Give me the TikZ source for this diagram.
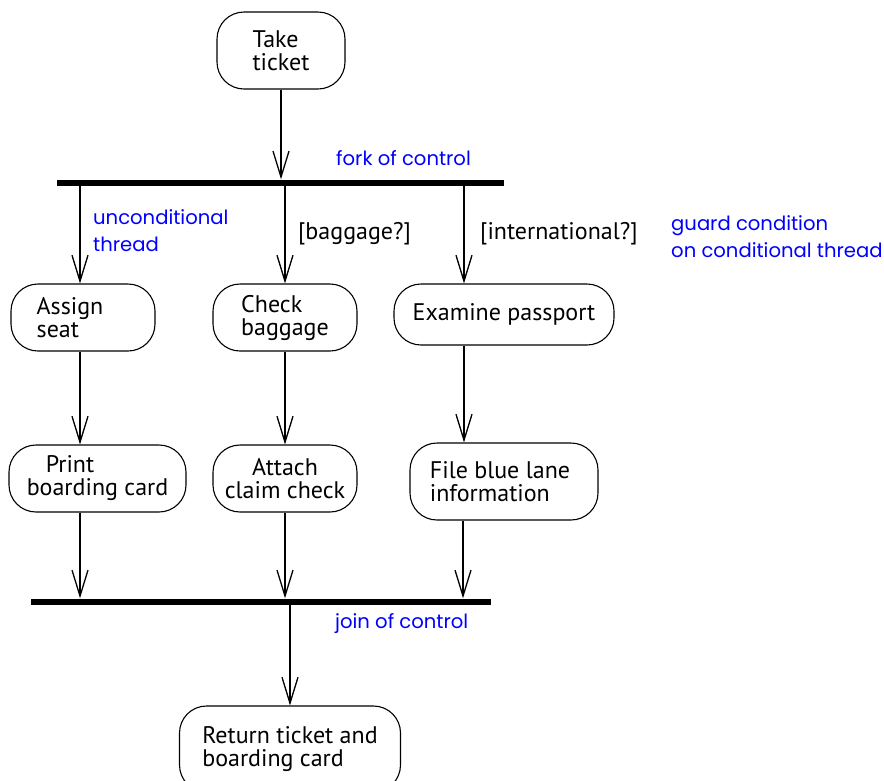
\documentclass[tikz,border=0pt]{standalone}
\usepackage{fontspec}
\setmainfont{PT Sans}
\newfontfamily\notefont{Poppins}
\usetikzlibrary{arrows.meta}
\begin{document}
\begin{tikzpicture}[x=1pt,y=-1pt,
  act/.style={draw, line width=1.1pt, rounded corners=27pt, inner sep=0pt,
    align=left, font=\fontsize{24}{23}\selectfont},
  bar/.style={fill=black, inner sep=0pt, minimum height=6pt},
  flow/.style={line width=1.3pt, -{Straight Barb[length=26pt,width=16pt,line width=1.3pt]}},
  note/.style={text=blue, font=\notefont\fontsize{19.6}{27}\selectfont, align=left, inner sep=0pt, anchor=west},
  guard/.style={font=\fontsize{24}{24}\selectfont, inner sep=0pt, anchor=west}]
\useasboundingbox (0,0) rectangle (884,780);
\node[act, minimum width=128pt, minimum height=77pt] (take) at (281,50.5) {Take\\ticket};
\node[bar, minimum width=447pt] (fork) at (280.5,182.5) {};
\node[act, minimum width=144pt, minimum height=67pt] (assign) at (83,317.5) {\hspace*{-26pt}Assign\\\hspace*{-26pt}seat};
\node[act, minimum width=144pt, minimum height=67pt] (check) at (285,317.5) {Check\\baggage};
\node[act, minimum width=220pt, minimum height=61pt] (exam) at (504,314.5) {Examine passport};
\node[act, minimum width=177pt, minimum height=67pt] (print) at (97.5,478.5) {\hspace*{19pt}Print\\boarding card};
\node[act, minimum width=144pt, minimum height=67pt, align=center] (attach) at (285,478.5) {Attach\\claim check};
\node[act, minimum width=188pt, minimum height=77pt] (file) at (504,481.5) {\hspace*{-8pt}File blue lane\\\hspace*{-8pt}information};
\node[bar, minimum width=460pt] (join) at (261,601.5) {};
\node[act, minimum width=221pt, minimum height=86pt] (ret) at (290,749) {Return ticket and\\boarding card};
\draw[flow] (take.south) -- (take.south |- fork.north);
\draw[flow] (fork.south -| 80,0) -- (assign.north -| 80,0);
\draw[flow] (fork.south -| check.north) -- (check.north);
\draw[flow] (fork.south -| 464,0) -- (exam.north -| 464,0);
\draw[flow] (assign.south -| 80,0) -- (print.north -| 80,0);
\draw[flow] (check.south) -- (attach.north);
\draw[flow] (exam.south -| 464,0) -- (file.north -| 464,0);
\draw[flow] (print.south -| 80,0) -- (join.north -| 80,0);
\draw[flow] (attach.south) -- (join.north -| attach.south);
\draw[flow] (file.south -| 463,0) -- (join.north -| 463,0);
\draw[flow] (join.south -| ret.north) -- (ret.north);
\node[note] (forklbl) at (336,158) {fork of control};
\node[note] (uncond) at (93,230.5) {unconditional\\thread};
\node[guard] (bag) at (298,234) {[baggage?]};
\node[guard] (intl) at (480,234) {[international?]};
\node[note] (guardlbl) at (671,237) {guard condition\\on conditional thread};
\node[note] (joinlbl) at (335,624) {join of control};
\end{tikzpicture}
\end{document}
